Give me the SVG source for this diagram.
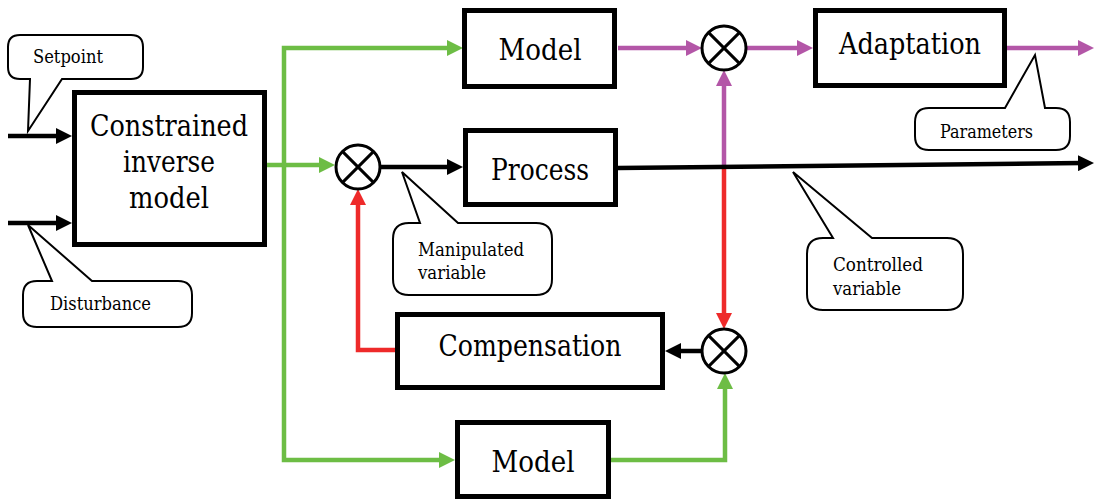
<svg xmlns="http://www.w3.org/2000/svg" width="1094" height="501" viewBox="0 0 1094 501">
  <style>
    .box { fill: #fff; stroke: #000; stroke-width: 5; }
    .big { font-size: 29px; fill: #000; text-anchor: middle; }
    .small { font-size: 18.5px; fill: #000; }
    .sum circle { fill: #fff; stroke: #000; stroke-width: 3; }
    .sum line { stroke: #000; stroke-width: 3; }
    .callout { fill: #fff; stroke: #000; stroke-width: 2; stroke-linejoin: miter; }
    .wire { fill: none; stroke-width: 4.5; stroke-linejoin: miter; }
    .k { stroke: #000; marker-end: url(#ak); }
    .g { stroke: #6dbd45; marker-end: url(#ag); }
    .p { stroke: #b356a7; marker-end: url(#ap); }
    .r { stroke: #ee2a2a; marker-end: url(#ar); }
  </style>
  <defs>
    <marker id="ak" viewBox="0 0 16 16" refX="4" refY="8" markerWidth="16" markerHeight="16" markerUnits="userSpaceOnUse" orient="auto"><path d="M0,0 L16,8 L0,16 Z" fill="#000"/></marker>
    <marker id="ag" viewBox="0 0 16 16" refX="4" refY="8" markerWidth="16" markerHeight="16" markerUnits="userSpaceOnUse" orient="auto"><path d="M0,0 L16,8 L0,16 Z" fill="#6dbd45"/></marker>
    <marker id="ap" viewBox="0 0 16 16" refX="4" refY="8" markerWidth="16" markerHeight="16" markerUnits="userSpaceOnUse" orient="auto"><path d="M0,0 L16,8 L0,16 Z" fill="#b356a7"/></marker>
    <marker id="ar" viewBox="0 0 16 16" refX="4" refY="8" markerWidth="16" markerHeight="16" markerUnits="userSpaceOnUse" orient="auto"><path d="M0,0 L16,8 L0,16 Z" fill="#ee2a2a"/></marker>
  </defs>

  <!-- signal lines -->
  <g id="connectors">
    <path class="wire k" d="M8,136 H60"/>
    <path class="wire k" d="M8,223 H60"/>
    <path class="wire g" d="M267,165 H323"/>
    <path class="wire g" d="M284,166 V48 H451"/>
    <path class="wire g" d="M284,164 V460 H443"/>
    <path class="wire g" d="M611,460 H725 V385"/>
    <path class="wire p" d="M618,48 H690"/>
    <path class="wire p" d="M746,48 H801"/>
    <path class="wire p" d="M1007,48 H1082"/>
    <path class="wire p" d="M724,166 V82"/>
    <path class="wire r" d="M724,166 V317"/>
    <path class="wire r" d="M395,350 H358 V201"/>
    <path class="wire k" d="M380,167 H451"/>
    <path class="wire k" d="M618,168 L1082,163.1"/>
    <path class="wire k" d="M702,351 H677"/>
  </g>

  <g font-family="DejaVu Serif Condensed, DejaVu Serif, serif">
  <g id="constrained-inverse-model">
    <rect class="box" x="74.5" y="92.5" width="190" height="152"/>
    <text class="big" x="169" y="136" textLength="158" lengthAdjust="spacingAndGlyphs">Constrained</text>
    <text class="big" x="169" y="172" textLength="92" lengthAdjust="spacingAndGlyphs">inverse</text>
    <text class="big" x="169" y="208" textLength="80" lengthAdjust="spacingAndGlyphs">model</text>
  </g>

  <g id="model-top">
    <rect class="box" x="464.5" y="10.5" width="150" height="76"/>
    <text class="big" x="540" y="60" textLength="83" lengthAdjust="spacingAndGlyphs">Model</text>
  </g>

  <g id="process">
    <rect class="box" x="465.5" y="130.5" width="150" height="74"/>
    <text class="big" x="540" y="180" textLength="98" lengthAdjust="spacingAndGlyphs">Process</text>
  </g>

  <g id="adaptation">
    <rect class="box" x="815.5" y="10.5" width="189" height="75"/>
    <text class="big" x="910" y="54" textLength="142" lengthAdjust="spacingAndGlyphs">Adaptation</text>
  </g>

  <g id="compensation">
    <rect class="box" x="397.5" y="314.5" width="265" height="73"/>
    <text class="big" x="530" y="356" textLength="183" lengthAdjust="spacingAndGlyphs">Compensation</text>
  </g>

  <g id="model-bottom">
    <rect class="box" x="457.5" y="422.5" width="151" height="74"/>
    <text class="big" x="533" y="472" textLength="83" lengthAdjust="spacingAndGlyphs">Model</text>
  </g>

  <g id="sum-input" class="sum">
    <circle cx="358" cy="167" r="22"/>
    <line x1="342.4" y1="151.4" x2="373.6" y2="182.6"/>
    <line x1="373.6" y1="151.4" x2="342.4" y2="182.6"/>
  </g>

  <g id="sum-model-error" class="sum">
    <circle cx="724" cy="48" r="22"/>
    <line x1="708.4" y1="32.4" x2="739.6" y2="63.6"/>
    <line x1="739.6" y1="32.4" x2="708.4" y2="63.6"/>
  </g>

  <g id="sum-compensation" class="sum">
    <circle cx="724" cy="351" r="22"/>
    <line x1="708.4" y1="335.4" x2="739.6" y2="366.6"/>
    <line x1="739.6" y1="335.4" x2="708.4" y2="366.6"/>
  </g>

  <g id="callout-setpoint">
    <path class="callout" d="M62,79 H131 Q143,79 143,67 V47 Q143,35 131,35 H20 Q8,35 8,47 V67 Q8,79 20,79 H30 L28,131 Z"/>
    <text class="small" x="33" y="63" textLength="70" lengthAdjust="spacingAndGlyphs">Setpoint</text>
  </g>

  <g id="callout-disturbance">
    <path class="callout" d="M52,281 H37 Q23,281 23,295 V313 Q23,327 37,327 H178 Q192,327 192,313 V295 Q192,281 178,281 H92 L28,225 Z"/>
    <text class="small" x="50" y="310" textLength="101" lengthAdjust="spacingAndGlyphs">Disturbance</text>
  </g>

  <g id="callout-manipulated">
    <path class="callout" d="M420,223 H409 Q393,223 393,239 V279 Q393,295 409,295 H536 Q552,295 552,279 V239 Q552,223 536,223 H458 L402,172 Z"/>
    <text class="small" x="418" y="256" textLength="106" lengthAdjust="spacingAndGlyphs">Manipulated</text>
    <text class="small" x="418" y="279" textLength="68" lengthAdjust="spacingAndGlyphs">variable</text>
  </g>

  <g id="callout-controlled">
    <path class="callout" d="M833,238 H823 Q807,238 807,254 V294 Q807,310 823,310 H947 Q963,310 963,294 V254 Q963,238 947,238 H872 L793,172 Z"/>
    <text class="small" x="833" y="271" textLength="90" lengthAdjust="spacingAndGlyphs">Controlled</text>
    <text class="small" x="833" y="295" textLength="68" lengthAdjust="spacingAndGlyphs">variable</text>
  </g>

  <g id="callout-parameters">
    <path class="callout" d="M1005,108 H929 Q915,108 915,122 V136 Q915,150 929,150 H1056 Q1070,150 1070,136 V122 Q1070,108 1056,108 H1045 L1035,55 Z"/>
    <text class="small" x="940" y="138" textLength="93" lengthAdjust="spacingAndGlyphs">Parameters</text>
  </g>
  </g>
</svg>
